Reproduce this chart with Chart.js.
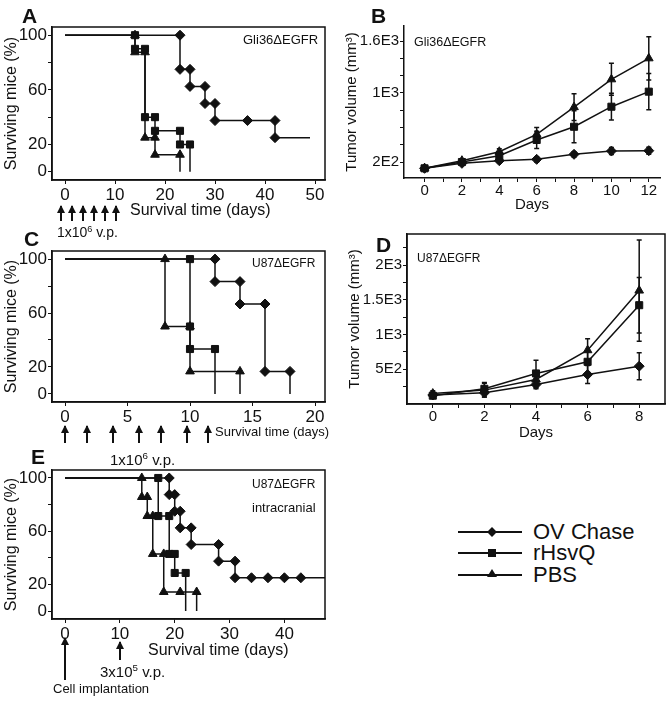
<!DOCTYPE html>
<html>
<head>
<meta charset="utf-8">
<script src="https://cdn.jsdelivr.net/npm/chart.js@4.4.1/dist/chart.umd.min.js"></script>
<style>
  html, body { margin: 0; padding: 0; background: #fff; }
  body { position: relative; width: 671px; height: 701px; overflow: hidden;
         font-family: 'Liberation Sans', Arial, sans-serif; color: #111; }
  canvas { position: absolute; }
  .txt { position: absolute; white-space: nowrap; line-height: 1; transform: translateY(-50%); }
  .txt sup { font-size: 0.65em; line-height: 0; vertical-align: 0.55em; }
  .panel { position: absolute; font-weight: bold; font-size: 21px; line-height: 1; transform: translateY(-50%); }
  .arrow { position: absolute; width: 2px; background: #111; }
  .arrow::before { content: ''; position: absolute; left: -3px; top: -1px;
                   border-left: 4px solid transparent; border-right: 4px solid transparent;
                   border-bottom: 8px solid #111; }
  .leg-line { position: absolute; height: 2px; background: #111; }
  .mk { position: absolute; transform: translate(-50%, -50%); }
  .mk-rectRot { width: 7px; height: 7px; background: #111; transform: translate(-50%, -50%) rotate(45deg); }
  .mk-rect { width: 8px; height: 8px; background: #111; }
  .mk-triangle { width: 0; height: 0; border-left: 5px solid transparent; border-right: 5px solid transparent;
                 border-bottom: 8px solid #111; }
</style>
</head>
<body>
<canvas id="chartA" width="340" height="192" style="left:0;top:13px"></canvas>
<canvas id="chartB" width="332" height="206" style="left:339px;top:12px"></canvas>
<canvas id="chartC" width="340" height="190" style="left:0;top:237px"></canvas>
<canvas id="chartD" width="329" height="226" style="left:342px;top:220px"></canvas>
<canvas id="chartE" width="340" height="188" style="left:0;top:456px"></canvas>

<div class="panel" style="left:22px;top:15px">A</div>
<div class="panel" style="left:371px;top:15px">B</div>
<div class="panel" style="left:24px;top:238px">C</div>
<div class="panel" style="left:376px;top:244px">D</div>
<div class="panel" style="left:31px;top:456px">E</div>

<div class="txt" style="left:243px;top:39px;font-size:13px">Gli36ΔEGFR</div>
<div class="txt" style="left:414px;top:42px;font-size:12.5px">Gli36ΔEGFR</div>
<div class="txt" style="left:252px;top:263px;font-size:12px">U87ΔEGFR</div>
<div class="txt" style="left:417px;top:258px;font-size:12px">U87ΔEGFR</div>
<div class="txt" style="left:252px;top:484px;font-size:12px">U87ΔEGFR</div>
<div class="txt" style="left:252px;top:507px;font-size:13px">intracranial</div>

<div class="txt" style="left:130px;top:210px;font-size:16px">Survival time (days)</div>
<div class="txt" style="left:57px;top:232px;font-size:14px">1x10<sup>6</sup> v.p.</div>
<div class="txt" style="left:215px;top:431px;font-size:13px">Survival time (days)</div>
<div class="txt" style="left:110px;top:459px;font-size:15px">1x10<sup>6</sup> v.p.</div>
<div class="txt" style="left:148px;top:650px;font-size:16px">Survival time (days)</div>
<div class="txt" style="left:100px;top:671px;font-size:15px">3x10<sup>5</sup> v.p.</div>
<div class="txt" style="left:53px;top:688px;font-size:13px">Cell implantation</div>

<script>
// 数据: 生存曲线 (天, 存活百分比) —— 每条曲线的阶梯路径顶点
const seriesNames = ['OV Chase', 'rHsvQ', 'PBS'];

// A: Gli36ΔEGFR 皮下
const aOvDays = [0, 23, 23, 25, 25, 28, 28, 30, 30, 36.5, 42, 42, 49];
const aOvSurv = [100, 100, 75, 75, 62.5, 62.5, 50, 50, 37.5, 37.5, 37.5, 25, 25];
const aRhsvDays = [0, 14, 14, 16, 16, 18, 18, 23, 23, 25, 25];
const aRhsvSurv = [100, 100, 90, 90, 40, 40, 30, 30, 20, 20, 0];
const aPbsDays = [0, 14, 14, 16, 16, 18, 18, 23, 23];
const aPbsSurv = [100, 100, 87.5, 87.5, 25, 25, 12.5, 12.5, 0];

// C: U87ΔEGFR
const cOvDays = [0, 12, 12, 14, 14, 16, 16, 18, 18];
const cOvSurv = [100, 100, 83.3, 83.3, 66.7, 66.7, 16.7, 16.7, 0];
const cRhsvDays = [0, 10, 10, 10, 12, 12];
const cRhsvSurv = [100, 100, 50, 33.3, 33.3, 0];
const cPbsDays = [0, 8, 8, 10, 10, 14, 14];
const cPbsSurv = [100, 100, 50, 50, 16.7, 16.7, 0];

// E: U87ΔEGFR 颅内
const eOvDays = [0, 19, 19, 20, 20, 21, 21, 23, 23, 28, 28, 31, 31, 34, 37, 40, 43, 47.4];
const eOvSurv = [100, 100, 87.5, 87.5, 75, 75, 62.5, 62.5, 50, 50, 37.5, 37.5, 25, 25, 25, 25, 25, 25];
const eRhsvDays = [0, 17, 17, 19, 19, 20, 20, 22, 22];
const eRhsvSurv = [100, 100, 71.4, 71.4, 42.9, 42.9, 28.6, 28.6, 0];
const ePbsDays = [0, 14, 14, 15, 15, 16, 16, 18, 18, 21, 24, 24];
const ePbsSurv = [100, 100, 85.7, 85.7, 71.4, 71.4, 42.9, 42.9, 14.3, 14.3, 14.3, 0];

// B: Gli36ΔEGFR 肿瘤体积 (mm3)
const bDays = [0, 2, 4, 6, 8, 10, 12];
const bOv = [127, 185, 215, 231, 289, 327, 331];
const bOvErr = [10, 20, 20, 30, 30, 40, 40];
const bRhsv = [127, 200, 273, 455, 608, 840, 1014];
const bRhsvErr = [10, 20, 30, 100, 185, 155, 210];
const bPbs = [127, 215, 319, 520, 835, 1157, 1400];
const bPbsErr = [10, 20, 35, 80, 155, 185, 250];

// D: U87ΔEGFR 肿瘤体积 (mm3)
const dDays = [0, 2, 4, 6, 8];
const dOv = [130, 161, 281, 425, 545];
const dOvErr = [40, 60, 60, 130, 195];
const dRhsv = [120, 219, 440, 608, 1424];
const dRhsvErr = [40, 90, 190, 150, 400];
const dPbs = [150, 200, 353, 775, 1635];
const dPbsErr = [40, 100, 120, 165, 730];

// 刻度
const survTicks = [0, 20, 40, 60, 80, 100];
const survTickLabels = [0, 20, 60, 100];
const aXTicks = [0, 10, 20, 30, 40, 50];
const cXTicks = [0, 5, 10, 15, 20];
const eXTicks = [0, 10, 20, 30, 40];
const bXTicks = [0, 1, 2, 3, 4, 5, 6, 7, 8, 9, 10, 11, 12];
const bYTicks = [200, 400, 600, 800, 1000, 1200, 1400, 1600];
const bYLabelValues = [200, 1000, 1600];
const bYLabelTexts = ['2E2', '1E3', '1.6E3'];
const dXTicks = [0, 1, 2, 3, 4, 5, 6, 7, 8];
const dYTicks = [250, 500, 750, 1000, 1250, 1500, 1750, 2000, 2250];
const dYLabelValues = [500, 1000, 1500, 2000];
const dYLabelTexts = ['5E2', '1E3', '1.5E3', '2E3'];

const ink = '#111';
const markerStyles = ['rectRot', 'rect', 'triangle'];
const markerSizes = [5, 5, 5];

Chart.defaults.font.family = "'Liberation Sans', Arial, sans-serif";
Chart.defaults.color = ink;

// 外框
const framePlugin = {
    id: 'frame',
    afterDatasetsDraw(chart) {
        const a = chart.chartArea;
        const ctx = chart.ctx;
        ctx.save();
        ctx.strokeStyle = ink;
        ctx.lineWidth = 1.5;
        ctx.strokeRect(a.left, a.top, a.right - a.left, a.bottom - a.top);
        ctx.restore();
    }
};

// 误差线
const errorBarPlugin = {
    id: 'errorBars',
    beforeDatasetsDraw(chart) {
        const ctx = chart.ctx;
        const x = chart.scales.x, y = chart.scales.y;
        ctx.save();
        ctx.strokeStyle = ink;
        ctx.lineWidth = 1.5;
        chart.data.datasets.forEach(ds => {
            ds.data.forEach((p, j) => {
                const e = ds.errors[j];
                const px = x.getPixelForValue(p.x);
                const top = y.getPixelForValue(p.y + e);
                const bot = y.getPixelForValue(p.y - e);
                ctx.beginPath();
                ctx.moveTo(px, top); ctx.lineTo(px, bot);
                ctx.moveTo(px - 2.5, top); ctx.lineTo(px + 2.5, top);
                ctx.moveTo(px - 2.5, bot); ctx.lineTo(px + 2.5, bot);
                ctx.stroke();
            });
        });
        ctx.restore();
    }
};

function axisStyle(tickVals, fontSize, labelFn, fitFn) {
    return {
        type: 'linear',
        afterBuildTicks: s => { s.ticks = tickVals.map(v => ({ value: v })); },
        afterFit: fitFn,
        ticks: { autoSkip: false, maxRotation: 0, padding: 1, font: { size: fontSize }, color: ink, callback: labelFn },
        grid: { drawOnChartArea: false, drawTicks: true, tickLength: 4, color: ink, lineWidth: 1 },
        border: { display: true, color: ink, width: 1.5 }
    };
}

function makeSurvival(id, curves, xMin, xMax, xTicks, padRight) {
    const x = axisStyle(xTicks, 17, v => v, s => { s.height = 25; });
    x.min = xMin; x.max = xMax;
    const y = axisStyle(survTicks, 17, v => survTickLabels.includes(v) ? v : '', s => { s.width = 52; });
    y.min = -6; y.max = 106;
    y.title = { display: true, text: 'Surviving mice (%)', font: { size: 16 }, color: ink, padding: { top: 2, bottom: 0 } };

    new Chart(document.getElementById(id), {
        type: 'line',
        data: {
            datasets: curves.map((c, i) => ({
                label: seriesNames[i],
                data: c[0].map((d, j) => ({ x: d, y: c[1][j] })),
                borderColor: ink,
                backgroundColor: ink,
                borderWidth: 1.5,
                tension: 0,
                fill: false,
                pointStyle: markerStyles[i],
                pointRadius: ctx => (ctx.dataIndex === 0 || ctx.dataIndex === c[0].length - 1) ? 0 : markerSizes[i],
                pointBorderWidth: 1
            }))
        },
        options: {
            responsive: false,
            animation: false,
            devicePixelRatio: 1,
            layout: { padding: { top: 14, right: padRight, left: 0, bottom: 0 } },
            plugins: { legend: { display: false }, tooltip: { enabled: false } },
            scales: { x: x, y: y }
        },
        plugins: [framePlugin]
    });
}

function makeVolume(id, days, series, errs, opt) {
    const x = axisStyle(opt.xTicks, 15, v => v % 2 === 0 ? v : '', s => { s.height = opt.xh; });
    x.min = opt.xMin; x.max = opt.xMax;
    x.ticks.padding = 0;
    x.title = { display: true, text: 'Days', font: { size: 15 }, color: ink, padding: { top: 0, bottom: 4 } };
    const y = axisStyle(opt.yTicks, 15, v => {
        const k = opt.yLabelValues.indexOf(v);
        return k < 0 ? '' : opt.yLabelTexts[k];
    }, s => { s.width = 65; });
    y.min = opt.yMin; y.max = opt.yMax;
    y.title = { display: true, text: 'Tumor volume (mm³)', font: { size: 15 }, color: ink, padding: { top: 4, bottom: 0 } };

    new Chart(document.getElementById(id), {
        type: 'line',
        data: {
            datasets: series.map((vals, i) => ({
                label: seriesNames[i],
                data: days.map((d, j) => ({ x: d, y: vals[j] })),
                errors: errs[i],
                borderColor: ink,
                backgroundColor: ink,
                borderWidth: 1.5,
                tension: 0,
                fill: false,
                pointStyle: markerStyles[i],
                pointRadius: markerSizes[i],
                pointBorderWidth: 1
            }))
        },
        options: {
            responsive: false,
            animation: false,
            devicePixelRatio: 1,
            layout: { padding: { top: 14, right: opt.padRight, left: 0, bottom: 0 } },
            plugins: { legend: { display: false }, tooltip: { enabled: false } },
            scales: { x: x, y: y }
        },
        plugins: opt.frame ? [errorBarPlugin, framePlugin] : [errorBarPlugin]
    });
}

makeSurvival('chartA', [[aOvDays, aOvSurv], [aRhsvDays, aRhsvSurv], [aPbsDays, aPbsSurv]], -2.6, 52, aXTicks, 15);
makeSurvival('chartC', [[cOvDays, cOvSurv], [cRhsvDays, cRhsvSurv], [cPbsDays, cPbsSurv]], -1.04, 20.8, cXTicks, 15);
makeSurvival('chartE', [[eOvDays, eOvSurv], [eRhsvDays, eRhsvSurv], [ePbsDays, ePbsSurv]], -2.37, 47.4, eXTicks, 15);

makeVolume('chartB', bDays, [bOv, bRhsv, bPbs], [bOvErr, bRhsvErr, bPbsErr], {
    xTicks: bXTicks, xMin: -1.1, xMax: 12.6, xh: 40,
    yTicks: bYTicks, yLabelValues: bYLabelValues, yLabelTexts: bYLabelTexts, yMin: 15, yMax: 1774,
    padRight: 11, frame: false
});
makeVolume('chartD', dDays, [dOv, dRhsv, dPbs], [dOvErr, dRhsvErr, dPbsErr], {
    xTicks: dXTicks, xMin: -1, xMax: 9, xh: 42,
    yTicks: dYTicks, yLabelValues: dYLabelValues, yLabelTexts: dYLabelTexts, yMin: 0, yMax: 2450,
    padRight: 6, frame: true
});

// 给药箭头
const arrowsA = [61, 72, 83, 94, 105, 116];
const arrowsC = [65, 87, 113, 139, 161, 187, 208];
function addArrow(x, tip, bottom) {
    const el = document.createElement('div');
    el.className = 'arrow';
    el.style.left = (x - 1) + 'px';
    el.style.top = tip + 'px';
    el.style.height = (bottom - tip) + 'px';
    document.body.appendChild(el);
}
arrowsA.forEach(x => addArrow(x, 206, 221));
arrowsC.forEach(x => addArrow(x, 426, 443));
addArrow(65, 638, 680);
addArrow(120, 642, 660);

// 图例
const legendRows = [532, 553, 575];
seriesNames.forEach((name, i) => {
    const line = document.createElement('div');
    line.className = 'leg-line';
    line.style.left = '458px';
    line.style.width = '64px';
    line.style.top = (legendRows[i] - 1) + 'px';
    document.body.appendChild(line);
    const mk = document.createElement('div');
    mk.className = 'mk mk-' + markerStyles[i];
    mk.style.left = '492px';
    mk.style.top = (legendRows[i] + (i === 2 ? -2 : 0)) + 'px';
    document.body.appendChild(mk);
    const t = document.createElement('div');
    t.className = 'txt';
    t.style.left = '533px';
    t.style.top = legendRows[i] + 'px';
    t.style.fontSize = '22px';
    t.textContent = name;
    document.body.appendChild(t);
});
</script>
</body>
</html>
